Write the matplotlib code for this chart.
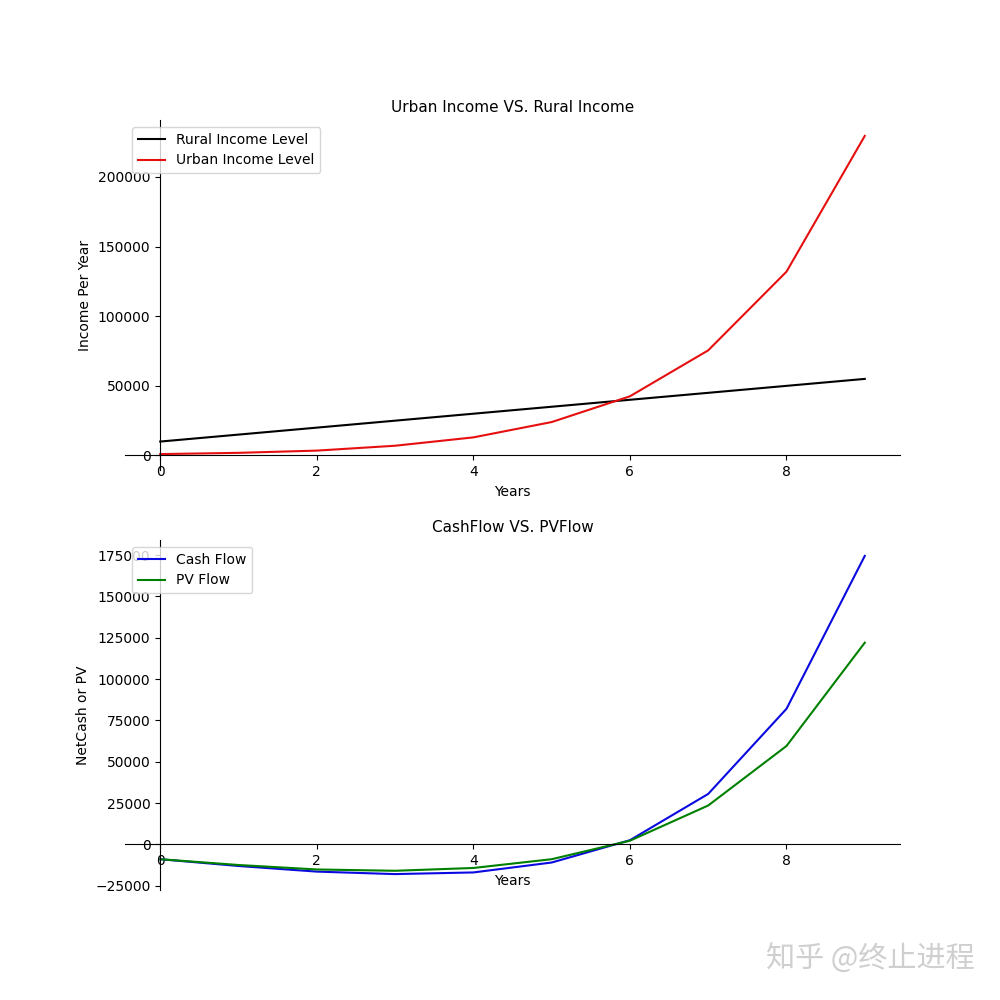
import matplotlib
matplotlib.use("Agg")
import matplotlib.pyplot as plt

years = [0, 1, 2, 3, 4, 5, 6, 7, 8, 9]
rural_income = [10000, 15000, 20000, 25000, 30000, 35000, 40000, 45000, 50000, 55000]
urban_income = [1000, 1900, 3500, 7000, 13000, 24000, 42500, 75500, 132000, 229500]
cash_flow = [-9000, -13100, -16500, -18000, -17000, -11000, 2500, 30500, 82000, 174500]
pv_flow = [-9000, -12500, -15200, -16000, -14300, -9000, 2200, 23500, 59500, 122000]

fig, (ax1, ax2) = plt.subplots(2, 1, figsize=(10, 10), dpi=100)

ax1.plot(years, rural_income, color='black', label='Rural Income Level')
ax1.plot(years, urban_income, color='#e60f0f', label='Urban Income Level')
ax1.set_title('Urban Income VS. Rural Income', fontsize=11)
ax1.set_xlabel('Years')
ax1.set_ylabel('Income Per Year')
ax1.legend(loc='upper left')

ax2.plot(years, cash_flow, color='#0a0ae0', label='Cash Flow')
ax2.plot(years, pv_flow, color='green', label='PV Flow')
ax2.set_title('CashFlow VS. PVFlow', fontsize=11)
ax2.set_xlabel('Years')
ax2.set_ylabel('NetCash or PV')
ax2.legend(loc='upper left')

for ax in (ax1, ax2):
    ax.spines['top'].set_visible(False)
    ax.spines['right'].set_visible(False)
    ax.spines['left'].set_position(('data', 0))
    ax.spines['bottom'].set_position(('data', 0))

fig.text(0.975, 0.04, '知乎 @终止进程', ha='right', va='center', fontsize=21,
         color='#cfcfcf', family=['Noto Sans CJK SC', 'DejaVu Sans'])

fig.savefig('out.png')
